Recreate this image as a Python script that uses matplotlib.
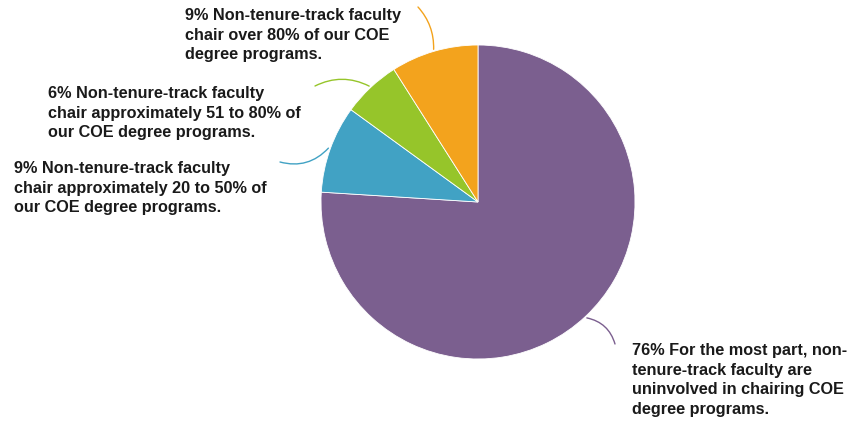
import matplotlib
matplotlib.use("Agg")
import matplotlib.pyplot as plt
import numpy as np

labels = [
    "76% For the most part, non-\ntenure-track faculty are\nuninvolved in chairing COE\ndegree programs.",
    "9% Non-tenure-track faculty\nchair approximately 20 to 50% of\nour COE degree programs.",
    "6% Non-tenure-track faculty\nchair approximately 51 to 80% of\nour COE degree programs.",
    "9% Non-tenure-track faculty\nchair over 80% of our COE\ndegree programs.",
]
values = [76, 9, 6, 9]
colors = ["#7B5F8F", "#41A2C4", "#96C52A", "#F3A31D"]

W, H = 851, 427
fig = plt.figure(figsize=(W / 100, H / 100), dpi=100)
ax = fig.add_axes([0, 0, 1, 1])
cx, cy, R = 478, H - 203, 157
wedges, _ = ax.pie(values, colors=colors, startangle=90, counterclock=False,
                   center=(cx, cy), radius=R,
                   wedgeprops=dict(edgecolor="white", linewidth=0.6))
ax.set_xlim(0, W)
ax.set_ylim(0, H)
ax.set_aspect("equal")
ax.axis("off")

# text anchor (left, top) in pixel coords and leader end points
text_pos = [(632, 343), (14, 161), (48, 86), (185, 8)]
line_end = [(615, 345), (280, 163), (315, 87), (418, 8)]
rads = [-0.3, -0.3, 0.25, 0.2]

for w, lab, tp, le, rad in zip(wedges, labels, text_pos, line_end, rads):
    ang = np.deg2rad((w.theta1 + w.theta2) / 2)
    sx = cx + (R + 2) * np.cos(ang)
    sy = cy + (R + 2) * np.sin(ang)
    ax.annotate("", xy=(le[0], H - le[1]), xytext=(sx, sy),
                arrowprops=dict(arrowstyle="-", color=w.get_facecolor(), lw=1.0,
                                shrinkA=0, shrinkB=0,
                                connectionstyle=f"arc3,rad={rad}"))
    ax.text(tp[0], H - tp[1], lab, ha="left", va="top", fontsize=11.7,
            fontweight="bold", family="Liberation Sans", linespacing=1.38,
            color="#1a1a1a")

fig.savefig("out.png", dpi=100)
